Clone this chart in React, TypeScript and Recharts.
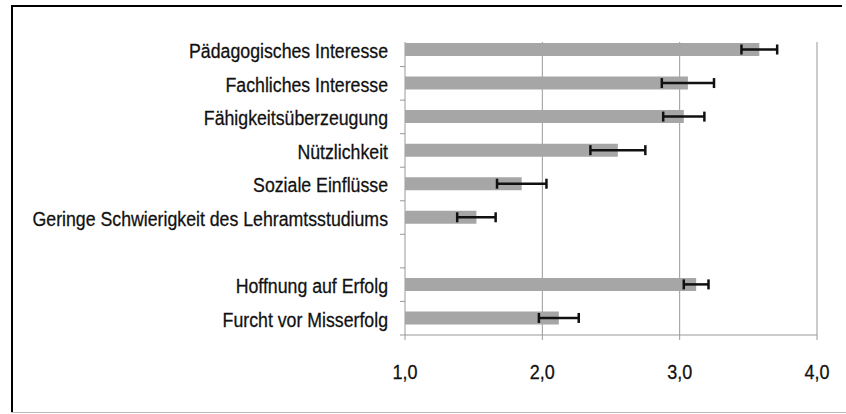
import React from "react";
import { BarChart, Bar, XAxis, YAxis, CartesianGrid, ErrorBar } from "recharts";

const categories = [
  "Pädagogisches Interesse",
  "Fachliches Interesse",
  "Fähigkeitsüberzeugung",
  "Nützlichkeit",
  "Soziale Einflüsse",
  "Geringe Schwierigkeit des Lehramtsstudiums",
  "",
  "Hoffnung auf Erfolg",
  "Furcht vor Misserfolg",
];
const means: (number | null)[] = [3.58, 3.06, 3.03, 2.55, 1.85, 1.52, null, 3.12, 2.12];
const errors: (number | null)[] = [0.13, 0.19, 0.15, 0.2, 0.18, 0.14, null, 0.09, 0.145];
const xTicks = [1, 2, 3, 4];

const data = categories.map((c, i) => ({ name: c, mean: means[i], err: errors[i] }));

const FONT = "'Liberation Sans', Arial, sans-serif";
const AXIS = "#999";

const YTick = (props: any) => {
  const { x, y, payload } = props;
  const half = payload.offset || 0;
  return (
    <g>
      <line x1={x + 12} x2={x + 17} y1={y + half} y2={y + half} stroke={AXIS} strokeWidth={1} />
      <g transform={`translate(${x},${y}) scale(0.985,1.12)`}>
        <text x={0} y={0} dy="0.42em" textAnchor="end" fontFamily={FONT} fontSize={18} fill="#111" stroke="#111" strokeWidth={0.25}>
          {payload.value}
        </text>
      </g>
    </g>
  );
};

const XTick = (props: any) => {
  const { x, y, payload } = props;
  return (
    <g transform={`translate(${x},${y}) scale(1,1.12)`}>
      <text x={0} y={0} dy="0.71em" textAnchor="middle" fontFamily={FONT} fontSize={18} fill="#111" stroke="#111" strokeWidth={0.25}>
        {payload.value.toFixed(1).replace(".", ",")}
      </text>
    </g>
  );
};

export default function App() {
  return (
    <div style={{ position: "absolute", left: 0, top: 0, width: 846, height: 414, background: "#fff", overflow: "hidden" }}>
      <div style={{ position: "absolute", left: 0, top: 0 }}>
        <BarChart
          width={846}
          height={414}
          data={data}
          layout="vertical"
          margin={{ top: 33, right: 29, bottom: 0, left: 0 }}
        >
          <CartesianGrid horizontal={false} vertical={true} stroke={AXIS} strokeWidth={1} y={42} height={293} />
          <XAxis
            type="number"
            dataKey="mean"
            domain={[1, 4]}
            ticks={xTicks}
            allowDataOverflow
            height={79}
            tickSize={5}
            tickMargin={25}
            stroke={AXIS}
            tick={<XTick />}
          />
          <YAxis
            yAxisId="cat"
            type="category"
            dataKey="name"
            width={405}
            tickLine={false}
            tickSize={5}
            tickMargin={12}
            axisLine={false}
            interval={0}
            tick={<YTick />}
          />
          <Bar yAxisId="cat" dataKey="mean" fill="#a6a6a6" barSize={13} isAnimationActive={false}>
            <ErrorBar dataKey="err" direction="x" width={5} stroke="#111" strokeWidth={2.5} />
          </Bar>
        </BarChart>
      </div>
      <svg width={846} height={414} style={{ position: "absolute", left: 0, top: 0, pointerEvents: "none" }}>
        <line x1={11} x2={842} y1={6} y2={6} stroke="#000" strokeWidth={2} />
        <line x1={12} x2={12} y1={5} y2={413} stroke="#000" strokeWidth={2} />
        <line x1={11} x2={846} y1={412.5} y2={412.5} stroke="#bbb" strokeWidth={1} />
      </svg>
    </div>
  );
}
